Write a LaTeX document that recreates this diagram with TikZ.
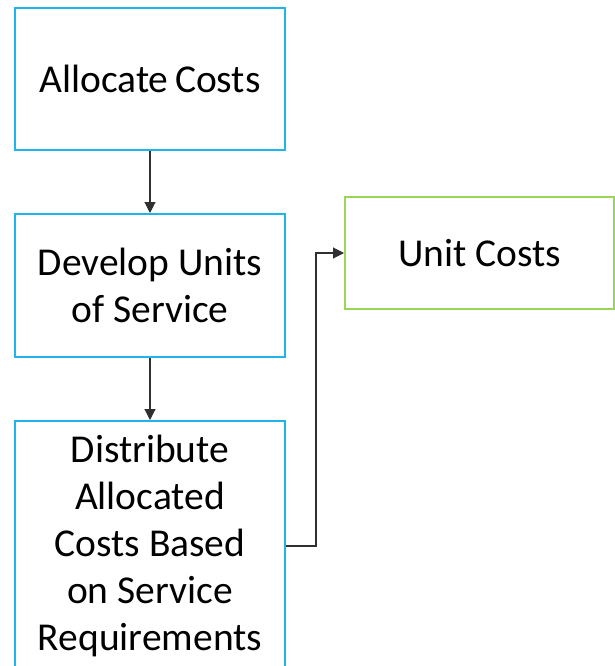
\documentclass[tikz,border=0pt]{standalone}
\usepackage{fontspec}
\setmainfont{Carlito}
\usetikzlibrary{arrows.meta}
\definecolor{bluebox}{HTML}{1FB5EA}
\definecolor{greenbox}{HTML}{9BD45A}
\definecolor{arrowc}{HTML}{303030}
\tikzset{
  box/.style={draw=bluebox, line width=2pt, fill=white, minimum width=270pt, align=center, inner sep=0pt,
    font=\fontsize{39.5pt}{47pt}\selectfont},
  gbox/.style={box, draw=greenbox},
  arr/.style={draw=arrowc, line width=1.1pt, -{Triangle[length=11pt,width=11pt]}}
}
\begin{document}
\begin{tikzpicture}[x=1pt,y=-1pt]
\useasboundingbox (0,0) rectangle (615,666);
\clip (0,0) rectangle (615,666);
\fill[white] (0,0) rectangle (615,666);
\node[box, minimum height=142pt] (b1) at (150,79) {Allocate\,Costs};
\node[box, minimum height=143pt] (b2) at (150,285.5) {Develop Units\\of Service};
\node[box, minimum height=250pt] (b3) at (150,546) {Distribute\\Allocated\\Costs Based\\on Service\\Requirements};
\node[gbox, minimum width=269pt, minimum height=112pt] (b4) at (479.5,253) {Unit Costs};
\draw[arr] (b1.south) -- (b2.north);
\draw[arr] (b2.south) -- (b3.north);
\draw[arr] (b3.east) -- ++(30,0) |- (b4.west);
\end{tikzpicture}
\end{document}
